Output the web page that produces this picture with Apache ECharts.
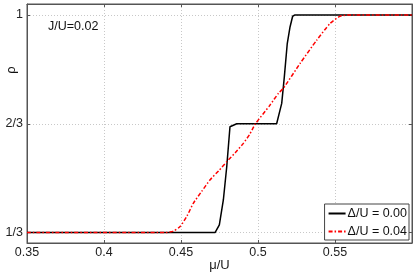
<!DOCTYPE html>
<html><head><meta charset="utf-8">
<script src="https://cdn.jsdelivr.net/npm/echarts@6/dist/echarts.min.js"></script>
<style>html,body{margin:0;padding:0;background:#fff}#c{width:415px;height:275px}</style>
</head><body><div id="c"></div>
<script>
const xTicks = [0.35, 0.4, 0.45, 0.5, 0.55];
const yTicks = [1/3, 2/3, 1];
const yTickLabels = ['1/3', '2/3', '1'];
const muBlack  = [0.35, 0.4721, 0.4749, 0.4775, 0.4797, 0.4818, 0.4829, 0.4862, 0.5121, 0.5143, 0.5154, 0.5171, 0.5190, 0.5208, 0.5225, 0.5240, 0.6];
const rhoBlack = [0.3333, 0.3333, 0.357, 0.4333, 0.5352, 0.6575, 0.6627, 0.6667, 0.6667, 0.7086, 0.729, 0.8104, 0.9125, 0.9633, 0.996, 1.0, 1.0];
const muRed  = [0.35, 0.44, 0.445, 0.4494, 0.454, 0.458, 0.4635, 0.4688, 0.4745, 0.4797, 0.4852, 0.4905, 0.4948, 0.4981, 0.5078, 0.5132, 0.5164, 0.5273, 0.5381, 0.5468, 0.5532, 0.5597, 0.6];
const rhoRed = [0.3333, 0.3333, 0.338, 0.3517, 0.385, 0.4232, 0.46, 0.4945, 0.523, 0.5505, 0.578, 0.6067, 0.636, 0.665, 0.7239, 0.7596, 0.775, 0.8514, 0.9226, 0.974, 0.996, 1.0, 1.0];
const seriesNames = ['\u0394/U = 0.00', '\u0394/U = 0.04'];
const annotation = 'J/U=0.02';

const zip = (a, b) => a.map((v, i) => [v, b[i]]);
const FONT = 'Liberation Sans, Arial, sans-serif';
const axisCol = '#555';
const gridLine = {show: true, lineStyle: {color: '#c8c8c8', type: [1, 2], width: 1}};

const chart = echarts.init(document.getElementById('c'), null, {renderer: 'canvas'});
chart.setOption({
  animation: false,
  grid: {left: 27, right: 3, top: 4, bottom: 32, show: true, borderColor: axisCol, borderWidth: 1,
    backgroundColor: 'transparent', containLabel: false, outerBoundsMode: 'none'},
  xAxis: [{
    type: 'value', min: 0.35, max: 0.6, interval: 0.05,
    axisLine: {lineStyle: {color: axisCol}},
    axisTick: {inside: true, length: 3, lineStyle: {color: axisCol}},
    axisLabel: {color: '#222', fontFamily: FONT, fontSize: 12.5, margin: 3, showMaxLabel: false,
      formatter: v => xTicks.some(t => Math.abs(t - v) < 1e-9) ? String(+v.toFixed(2)) : ''},
    splitLine: gridLine,
    name: '\u03bc/U', nameLocation: 'middle', nameGap: 16, nameMoveOverlap: false,
    nameTextStyle: {color: '#222', fontFamily: FONT, fontSize: 13}
  }, {
    type: 'value', position: 'top', min: 0.35, max: 0.6, interval: 0.05,
    axisLine: {show: true, lineStyle: {color: axisCol}},
    axisTick: {inside: true, length: 3, lineStyle: {color: axisCol}},
    axisLabel: {show: false}, splitLine: {show: false}
  }],
  yAxis: [{
    type: 'value', min: 0.3015, max: 1.0336,
    axisLine: {show: true, lineStyle: {color: axisCol}},
    axisTick: {show: true, inside: true, length: 3, customValues: yTicks, lineStyle: {color: axisCol}},
    axisLabel: {color: '#222', fontFamily: FONT, fontSize: 12.5, margin: 4, customValues: yTicks,
      formatter: v => { const i = yTicks.findIndex(t => Math.abs(t - v) < 1e-6); return i >= 0 ? yTickLabels[i] : ''; }},
    splitLine: gridLine
  }, {
    type: 'value', position: 'right', min: 0.3015, max: 1.0336,
    axisLine: {show: true, lineStyle: {color: axisCol}},
    axisTick: {show: true, inside: true, length: 3, customValues: yTicks, lineStyle: {color: axisCol}},
    axisLabel: {show: false}, splitLine: {show: false}
  }],
  legend: {
    orient: 'vertical', right: 6, bottom: 35,
    backgroundColor: '#fff', borderColor: '#444', borderWidth: 1, borderRadius: 0,
    padding: [3, 2, 2, 3], itemWidth: 17, itemHeight: 12, itemGap: 5,
    itemStyle: {opacity: 0},
    textStyle: {color: '#111', fontFamily: FONT, fontSize: 12.5, padding: [0, 0, 0, -3]},
    data: seriesNames
  },
  graphic: [
    {type: 'text', left: 48, top: 20, style: {text: annotation, fill: '#111', font: '12.5px ' + FONT}},
    {type: 'text', x: 11, y: 70, rotation: Math.PI / 2, style: {text: '\u03c1', fill: '#111', font: '13px ' + FONT, align: 'center', verticalAlign: 'middle'}}
  ],
  series: [{
    name: seriesNames[0], type: 'line', data: zip(muBlack, rhoBlack), symbol: 'none',
    lineStyle: {color: '#000', width: 1.5}, itemStyle: {color: '#000'}, z: 3
  }, {
    name: seriesNames[1], type: 'line', data: zip(muRed, rhoRed), symbol: 'none', smooth: 0.2,
    lineStyle: {color: '#ff0000', width: 1.5, type: [4, 2, 1.5, 2]}, itemStyle: {color: '#ff0000'}, z: 4
  }]
});
</script></body></html>
